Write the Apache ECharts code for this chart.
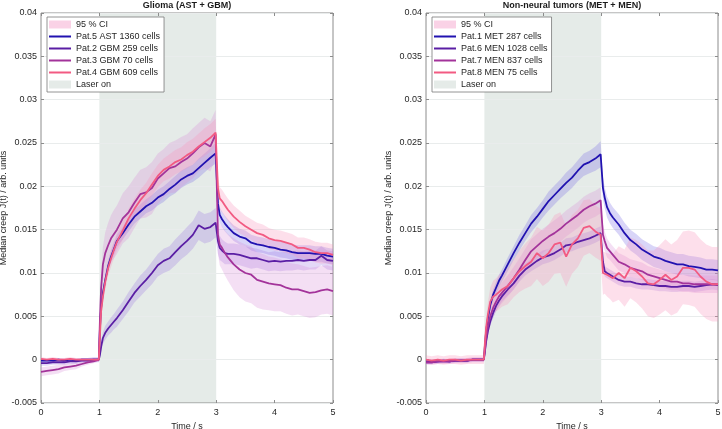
<!DOCTYPE html>
<html><head><meta charset="utf-8">
<script src="https://cdn.jsdelivr.net/npm/echarts@6/dist/echarts.min.js"></script>
<style>html,body{margin:0;padding:0;background:#fff}#c{width:722px;height:429px}</style>
</head><body><div id="c"></div>
<script>
// time grid (s)
const T = [0,0.1,0.2,0.3,0.4,0.5,0.6,0.7,0.8,0.9,0.99,1.01,1.03,1.06,1.1,1.15,1.2,1.25,1.3,
  1.4,1.5,1.6,1.7,1.8,1.9,2.0,2.1,2.2,2.3,2.4,2.5,2.6,2.7,2.8,2.9,2.99,3.03,3.06,3.1,3.15,3.2,
  3.3,3.4,3.5,3.6,3.7,3.8,3.9,4.0,4.1,4.2,4.3,4.4,4.5,4.6,4.7,4.8,4.9,5.0];
const xTickLabels = ['0','1','2','3','4','5'];
const yTickLabels = ['-0.005','0','0.005','0.01','0.015','0.02','0.025','0.03','0.035','0.04'];
const laserOn = [1, 3];
const titles = ['Glioma (AST + GBM)', 'Non-neural tumors (MET + MEN)'];
const leftNames = ['Pat.5 AST 1360 cells','Pat.2 GBM 259 cells','Pat.3 GBM 70 cells','Pat.4 GBM 609 cells'];
const rightNames = ['Pat.1 MET 287 cells','Pat.6 MEN 1028 cells','Pat.7 MEN 837 cells','Pat.8 MEN 75 cells'];

// ---- Glioma panel ----
const pat5 = [-0.0001,-0.0001,-0.0001,0.0000,-0.0001,0.0000,-0.0001,0.0000,0.0000,0.0000,0.0000,
  0.0037,0.0060,0.0077,0.0092,0.0108,0.0119,0.0128,0.0137,
  0.0146,0.0156,0.0165,0.0171,0.0177,0.0181,0.0187,0.0191,0.0197,0.0202,0.0208,0.0212,0.0215,0.0221,0.0227,0.0233,
  0.0238,0.0180,0.0167,0.0162,0.0157,0.0153,
  0.0146,0.0142,0.0140,0.0135,0.0133,0.0132,0.0130,0.0129,0.0127,0.0126,0.0124,0.0123,0.0123,0.0123,0.0122,0.0122,0.0120,0.0119];
const ci5 = [0.0002,0.0002,0.0002,0.0002,0.0002,0.0002,0.0002,0.0002,0.0002,0.0002,0.0002,
  0.0004,0.0005,0.0006,0.0006,0.0006,0.0007,0.0007,0.0007,
  0.0007,0.0008,0.0008,0.0008,0.0008,0.0009,0.0009,0.0009,0.0009,0.0010,0.0010,0.0010,0.0010,0.0011,0.0011,0.0011,
  0.0012,0.0010,0.0009,0.0009,0.0009,0.0009,
  0.0009,0.0009,0.0009,0.0009,0.0009,0.0009,0.0009,0.0009,0.0009,0.0009,0.0009,0.0009,0.0009,0.0009,0.0009,0.0009,0.0009,0.0009];
const pat2 = [-0.0004,-0.0004,-0.0003,-0.0003,-0.0003,-0.0002,-0.0002,-0.0001,-0.0001,0.0000,0.0000,
  0.0006,0.0015,0.0025,0.0031,0.0036,0.0040,0.0044,0.0048,
  0.0057,0.0067,0.0077,0.0085,0.0092,0.0100,0.0109,0.0114,0.0117,0.0124,0.0131,0.0137,0.0144,0.0155,0.0151,0.0153,
  0.0158,0.0137,0.0129,0.0126,0.0123,0.0122,
  0.0122,0.0121,0.0119,0.0117,0.0117,0.0115,0.0113,0.0114,0.0113,0.0114,0.0114,0.0115,0.0114,0.0115,0.0115,0.0120,0.0115,0.0114];
const ci2 = [0.0003,0.0003,0.0003,0.0003,0.0003,0.0003,0.0003,0.0003,0.0003,0.0003,0.0003,
  0.0005,0.0006,0.0007,0.0008,0.0008,0.0009,0.0009,0.0010,
  0.0010,0.0011,0.0011,0.0012,0.0012,0.0013,0.0013,0.0014,0.0014,0.0015,0.0015,0.0016,0.0016,0.0017,0.0017,0.0017,
  0.0017,0.0015,0.0014,0.0013,0.0013,0.0012,
  0.0012,0.0012,0.0012,0.0012,0.0011,0.0011,0.0011,0.0011,0.0011,0.0011,0.0011,0.0011,0.0011,0.0011,0.0011,0.0011,0.0011,0.0011];
const pat3 = [-0.0014,-0.0013,-0.0012,-0.0011,-0.0009,-0.0008,-0.0007,-0.0005,-0.0003,-0.0002,0.0000,
  0.0048,0.0083,0.0110,0.0123,0.0132,0.0140,0.0145,0.0150,
  0.0163,0.0170,0.0181,0.0191,0.0193,0.0198,0.0209,0.0215,0.0221,0.0223,0.0228,0.0232,0.0238,0.0245,0.0250,0.0246,
  0.0260,0.0144,0.0133,0.0129,0.0123,0.0118,
  0.0110,0.0104,0.0100,0.0098,0.0092,0.0090,0.0088,0.0087,0.0086,0.0083,0.0081,0.0081,0.0079,0.0077,0.0078,0.0080,0.0081,0.0079];
const ci3 = [0.0005,0.0005,0.0005,0.0005,0.0004,0.0004,0.0004,0.0003,0.0003,0.0002,0.0002,
  0.0010,0.0015,0.0020,0.0024,0.0026,0.0027,0.0028,0.0028,
  0.0029,0.0030,0.0029,0.0028,0.0029,0.0030,0.0029,0.0028,0.0029,0.0030,0.0029,0.0028,0.0029,0.0028,0.0029,0.0029,
  0.0028,0.0022,0.0024,0.0025,0.0026,0.0027,
  0.0030,0.0032,0.0033,0.0033,0.0032,0.0032,0.0031,0.0031,0.0030,0.0030,0.0030,0.0029,0.0029,0.0029,0.0029,0.0028,0.0028,0.0028];
const pat4 = [0.0001,0.0000,0.0001,0.0000,0.0000,0.0001,0.0000,0.0000,0.0000,0.0000,0.0000,
  0.0029,0.0056,0.0073,0.0090,0.0106,0.0117,0.0127,0.0136,
  0.0149,0.0163,0.0174,0.0184,0.0192,0.0202,0.0212,0.0219,0.0223,0.0228,0.0231,0.0236,0.0240,0.0246,0.0251,0.0256,
  0.0262,0.0198,0.0186,0.0183,0.0178,0.0173,
  0.0165,0.0159,0.0154,0.0150,0.0146,0.0144,0.0140,0.0138,0.0137,0.0135,0.0133,0.0129,0.0129,0.0127,0.0124,0.0123,0.0123,0.0121];
const ci4 = [0.0002,0.0002,0.0002,0.0002,0.0002,0.0002,0.0002,0.0002,0.0002,0.0002,0.0002,
  0.0005,0.0007,0.0008,0.0009,0.0009,0.0010,0.0010,0.0010,
  0.0011,0.0011,0.0012,0.0012,0.0012,0.0013,0.0013,0.0013,0.0014,0.0014,0.0014,0.0015,0.0015,0.0015,0.0016,0.0016,
  0.0016,0.0014,0.0013,0.0013,0.0013,0.0013,
  0.0013,0.0013,0.0012,0.0012,0.0012,0.0012,0.0012,0.0012,0.0012,0.0012,0.0012,0.0012,0.0012,0.0012,0.0012,0.0012,0.0012,0.0012];

// ---- Non-neural panel ----
const pat1 = [-0.0002,-0.0002,-0.0002,-0.0001,-0.0002,-0.0001,-0.0001,-0.0001,0.0000,0.0000,0.0000,
  0.0017,0.0033,0.0048,0.0063,0.0075,0.0083,0.0091,0.0097,
  0.0110,0.0123,0.0135,0.0146,0.0157,0.0165,0.0174,0.0183,0.0190,0.0197,0.0204,0.0210,0.0218,0.0225,0.0228,0.0232,
  0.0237,0.0198,0.0187,0.0176,0.0169,0.0164,
  0.0156,0.0146,0.0138,0.0133,0.0127,0.0123,0.0119,0.0117,0.0114,0.0112,0.0110,0.0110,0.0108,0.0107,0.0106,0.0104,0.0104,0.0103];
const ci1 = [0.0002,0.0002,0.0002,0.0002,0.0002,0.0002,0.0002,0.0002,0.0002,0.0002,0.0002,
  0.0003,0.0004,0.0005,0.0006,0.0006,0.0007,0.0007,0.0007,
  0.0008,0.0008,0.0009,0.0009,0.0010,0.0010,0.0010,0.0011,0.0011,0.0011,0.0012,0.0012,0.0012,0.0013,0.0013,0.0014,
  0.0015,0.0013,0.0012,0.0012,0.0012,0.0012,
  0.0012,0.0012,0.0012,0.0012,0.0012,0.0012,0.0012,0.0012,0.0012,0.0012,0.0012,0.0012,0.0012,0.0012,0.0012,0.0012,0.0012,0.0012];
const pat6 = [-0.0003,-0.0003,-0.0002,-0.0002,-0.0002,-0.0001,-0.0001,-0.0001,0.0000,0.0000,0.0000,
  0.0010,0.0021,0.0033,0.0044,0.0054,0.0062,0.0068,0.0073,
  0.0081,0.0088,0.0097,0.0104,0.0109,0.0114,0.0118,0.0120,0.0123,0.0127,0.0132,0.0133,0.0136,0.0138,0.0140,0.0143,
  0.0146,0.0113,0.0102,0.0100,0.0098,0.0096,
  0.0092,0.0090,0.0090,0.0088,0.0087,0.0087,0.0086,0.0085,0.0085,0.0084,0.0084,0.0085,0.0085,0.0084,0.0085,0.0086,0.0087,0.0086];
const ci6 = [0.0002,0.0002,0.0002,0.0002,0.0002,0.0002,0.0002,0.0002,0.0002,0.0002,0.0002,
  0.0003,0.0004,0.0005,0.0005,0.0006,0.0006,0.0006,0.0006,
  0.0007,0.0007,0.0007,0.0007,0.0007,0.0008,0.0008,0.0008,0.0008,0.0008,0.0008,0.0008,0.0008,0.0008,0.0008,0.0008,
  0.0008,0.0007,0.0006,0.0006,0.0006,0.0006,
  0.0006,0.0006,0.0006,0.0006,0.0006,0.0006,0.0006,0.0006,0.0006,0.0006,0.0006,0.0006,0.0006,0.0006,0.0006,0.0006,0.0006,0.0006];
const pat7 = [-0.0003,-0.0003,-0.0002,-0.0002,-0.0002,-0.0001,-0.0001,-0.0001,0.0000,0.0000,0.0000,
  0.0012,0.0025,0.0038,0.0050,0.0060,0.0067,0.0073,0.0077,
  0.0085,0.0094,0.0104,0.0115,0.0125,0.0131,0.0137,0.0142,0.0146,0.0151,0.0157,0.0162,0.0167,0.0173,0.0177,0.0180,
  0.0184,0.0144,0.0137,0.0129,0.0125,0.0121,
  0.0113,0.0110,0.0106,0.0104,0.0102,0.0098,0.0096,0.0094,0.0092,0.0090,0.0090,0.0088,0.0088,0.0087,0.0087,0.0087,0.0087,0.0087];
const ci7 = [0.0003,0.0003,0.0003,0.0003,0.0003,0.0003,0.0003,0.0003,0.0003,0.0003,0.0003,
  0.0005,0.0007,0.0009,0.0010,0.0011,0.0011,0.0012,0.0012,
  0.0012,0.0013,0.0013,0.0013,0.0014,0.0014,0.0014,0.0014,0.0015,0.0015,0.0015,0.0015,0.0015,0.0015,0.0015,0.0015,
  0.0015,0.0012,0.0011,0.0011,0.0010,0.0010,
  0.0010,0.0010,0.0010,0.0010,0.0010,0.0010,0.0010,0.0010,0.0010,0.0010,0.0010,0.0010,0.0010,0.0010,0.0010,0.0010,0.0010,0.0010];
const pat8 = [0.0000,-0.0001,0.0000,-0.0001,0.0000,0.0000,-0.0001,0.0000,0.0000,0.0000,0.0000,
  0.0021,0.0037,0.0052,0.0067,0.0073,0.0075,0.0078,0.0081,
  0.0085,0.0094,0.0102,0.0108,0.0113,0.0123,0.0117,0.0123,0.0133,0.0135,0.0119,0.0133,0.0140,0.0152,0.0154,0.0148,
  0.0144,0.0100,0.0100,0.0098,0.0096,0.0094,
  0.0100,0.0094,0.0106,0.0102,0.0096,0.0088,0.0087,0.0092,0.0098,0.0092,0.0096,0.0106,0.0106,0.0104,0.0096,0.0090,0.0087,0.0087];
const ci8 = [0.0005,0.0005,0.0005,0.0005,0.0005,0.0005,0.0005,0.0005,0.0005,0.0005,0.0005,
  0.0008,0.0011,0.0014,0.0016,0.0018,0.0019,0.0020,0.0020,
  0.0021,0.0022,0.0024,0.0026,0.0028,0.0030,0.0032,0.0033,0.0034,0.0035,0.0035,0.0034,0.0033,0.0032,0.0031,0.0030,
  0.0030,0.0025,0.0024,0.0025,0.0026,0.0028,
  0.0031,0.0033,0.0035,0.0036,0.0037,0.0038,0.0039,0.0040,0.0041,0.0041,0.0042,0.0042,0.0043,0.0043,0.0043,0.0043,0.0043,0.0043];

// ---- styling ----
const FONT = '"Liberation Sans", Arial, Helvetica, sans-serif';
const lineColors = ['#2112b0', '#5a1ea4', '#a3339a', '#f25a82'];
const bandColors = ['rgba(120,105,230,0.28)', 'rgba(150,110,225,0.26)', 'rgba(215,140,215,0.28)', 'rgba(250,150,190,0.30)'];
const ciLegendColor = '#fad2e6';
const laserColor = '#e5ebe8';
const axisColor = '#8c8c8c';
const lineIcon = 'path://M0,0H22V2H0Z';

const gridsPx = [{left: 41, top: 13, width: 292, height: 390}, {left: 426, top: 13, width: 292, height: 390}];

function fmtY(v) {
  const i = Math.round((v + 0.005) / 0.005);
  return yTickLabels[i] !== undefined ? yTickLabels[i] : '';
}
function fmtX(v) { const i = Math.round(v); return xTickLabels[i] !== undefined ? xTickLabels[i] : ''; }

const xAxes = [], yAxes = [], series = [], legends = [], graphics = [];
const panels = [
  {names: leftNames, vals: [pat5, pat2, pat3, pat4], cis: [ci5, ci2, ci3, ci4]},
  {names: rightNames, vals: [pat1, pat6, pat7, pat8], cis: [ci1, ci6, ci7, ci8]}
];

panels.forEach((p, g) => {
  const tick = {show: true, inside: true, length: 3, lineStyle: {color: axisColor, width: 1}};
  xAxes.push({type: 'value', gridIndex: g, min: 0, max: 5, interval: 1, position: 'bottom',
    axisLine: {show: false, onZero: false}, axisTick: tick, splitLine: {show: false},
    axisLabel: {formatter: fmtX, color: '#262626', fontSize: 9, fontFamily: FONT, margin: 5},
    name: 'Time / s', nameLocation: 'middle', nameGap: 17,
    nameTextStyle: {color: '#262626', fontSize: 9, fontFamily: FONT}});
  xAxes.push({type: 'value', gridIndex: g, min: 0, max: 5, interval: 1, position: 'top',
    axisLine: {show: false, onZero: false}, axisTick: tick, axisLabel: {show: false}, splitLine: {show: false}});
  yAxes.push({type: 'value', gridIndex: g, min: -0.005, max: 0.04, interval: 0.005, position: 'left',
    axisLine: {show: false, onZero: false}, axisTick: tick,
    splitLine: {show: true, lineStyle: {color: '#e9ecec', width: 1}},
    axisLabel: {formatter: fmtY, color: '#262626', fontSize: 9, fontFamily: FONT, margin: 4},
    name: 'Median creep J(t) / arb. units', nameLocation: 'middle', nameGap: 30, nameRotate: 90,
    nameTextStyle: {color: '#262626', fontSize: 9, fontFamily: FONT}});
  yAxes.push({type: 'value', gridIndex: g, min: -0.005, max: 0.04, interval: 0.005, position: 'right',
    axisLine: {show: false, onZero: false}, axisTick: tick, axisLabel: {show: false}, splitLine: {show: false}});

  const xi = 2 * g, yi = 2 * g;
  // laser on region
  series.push({name: 'Laser on', type: 'custom', xAxisIndex: xi, yAxisIndex: yi, z: -1, silent: true,
    itemStyle: {color: laserColor}, data: [[laserOn[0], laserOn[1]]],
    renderItem: (params, api) => {
      const a = api.coord([api.value(0), 0.04]);
      const b = api.coord([api.value(1), -0.005]);
      return {type: 'rect', shape: {x: a[0], y: a[1], width: b[0] - a[0], height: b[1] - a[1]},
        style: {fill: laserColor}};
    }});
  // CI legend dummy
  series.push({name: '95 % CI', type: 'custom', xAxisIndex: xi, yAxisIndex: yi, itemStyle: {color: ciLegendColor},
    data: [], renderItem: () => null});
  // bands
  p.vals.forEach((vals, k) => {
    const ci = p.cis[k];
    series.push({type: 'custom', xAxisIndex: xi, yAxisIndex: yi, z: 1, silent: true, data: [[0, 0]],
      renderItem: (params, api) => {
        const up = T.map((t, i) => api.coord([t, vals[i] + ci[i]]));
        const lo = T.map((t, i) => api.coord([t, vals[i] - ci[i]])).reverse();
        return {type: 'polygon', shape: {points: up.concat(lo)}, style: {fill: bandColors[k]}};
      }});
  });
  // lines
  p.vals.forEach((vals, k) => {
    series.push({name: p.names[k], type: 'line', xAxisIndex: xi, yAxisIndex: yi, z: 3, symbol: 'none',
      silent: true, animation: false, color: lineColors[k], itemStyle: {color: lineColors[k]},
      lineStyle: {color: lineColors[k], width: 1.8},
      data: T.map((t, i) => [t, vals[i]])});
  });

  const gp = gridsPx[g];
  legends.push({orient: 'vertical', left: gp.left + 6, top: gp.top + 4,
    backgroundColor: '#ffffff', borderColor: '#7a7a7a', borderWidth: 0.8,
    padding: [2, 4, 2, 2], itemWidth: 22, itemHeight: 8, itemGap: 1, symbolKeepAspect: true,
    textStyle: {fontSize: 9, fontFamily: FONT, color: '#262626', lineHeight: 11},
    selectedMode: false,
    data: [{name: '95 % CI', icon: 'rect'}]
      .concat(p.names.map(n => ({name: n, icon: lineIcon})))
      .concat([{name: 'Laser on', icon: 'rect'}])});

  graphics.push({type: 'text', x: gp.left + gp.width / 2, y: 6,
    style: {text: titles[g], textAlign: 'center', textVerticalAlign: 'middle',
      font: 'bold 9px ' + FONT, fill: '#1a1a1a'}});
});

const chart = echarts.init(document.getElementById('c'), null, {renderer: 'canvas'});
chart.setOption({
  animation: false,
  backgroundColor: '#ffffff',
  grid: gridsPx.map(gp => Object.assign({show: true, borderColor: axisColor, borderWidth: 1,
    backgroundColor: 'transparent', containLabel: false, outerBoundsMode: 'none'}, gp)),
  xAxis: xAxes,
  yAxis: yAxes,
  legend: legends,
  graphic: graphics,
  series: series
});
</script>
</body></html>
